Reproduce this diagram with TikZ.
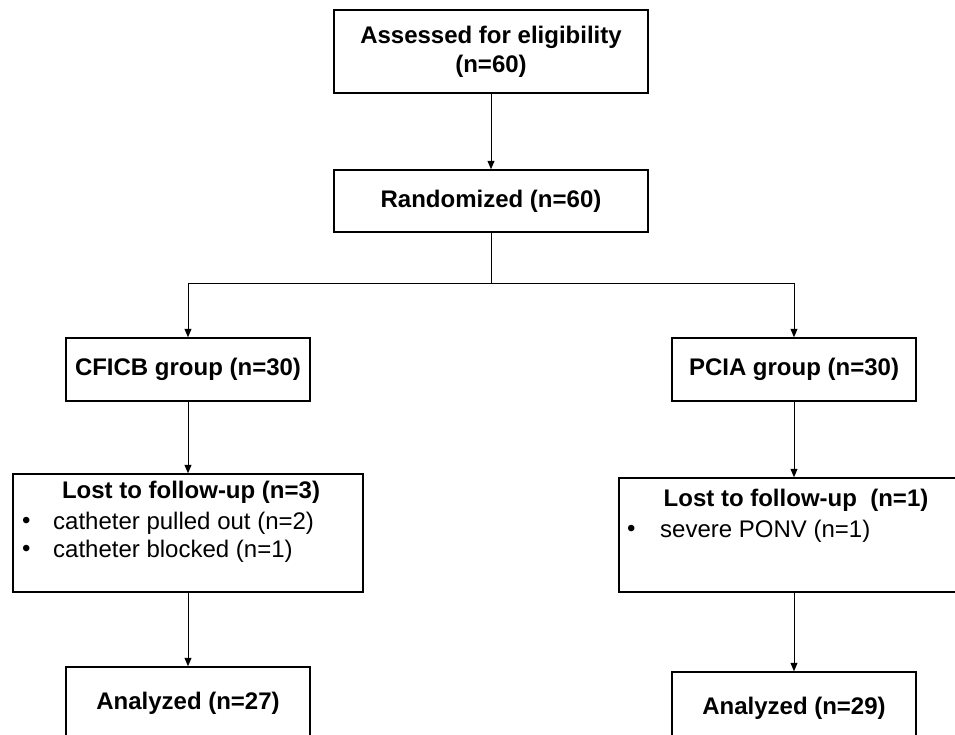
\documentclass[tikz,border=0pt]{standalone}
\usepackage{fontspec}
\setmainfont{Liberation Sans}
\usetikzlibrary{arrows.meta}
\begin{document}
\begin{tikzpicture}[x=1pt,y=-1pt,
  box/.style={draw=black,line width=1.5pt,fill=white,inner sep=0pt,minimum width=#1},
  bt/.style={font=\fontsize{24}{29}\selectfont\bfseries,inner sep=0pt,align=center},
  rt/.style={font=\fontsize{24}{28}\selectfont,inner sep=0pt,anchor=west},
  arr/.style={line width=1pt,-{Triangle[length=8.5pt,width=7pt]}},
  ln/.style={line width=1pt}]
\useasboundingbox (0,0) rectangle (955,734);
\clip (0,0) rectangle (955,734);
% boxes
\node[box=314pt,minimum height=83pt] (assess) at (491,51.5) {};
\node[bt] (assessT) at (491,52) {Assessed for eligibility\\(n=60)};
\node[box=314pt,minimum height=62pt,bt] (rand) at (491,201) {Randomized (n=60)};
\node[box=244pt,minimum height=63pt,bt] (cficb) at (188,369.5) {CFICB group (n=30)};
\node[box=244pt,minimum height=63pt,bt] (pcia) at (794,369.5) {PCIA group (n=30)};
\node[box=350pt,minimum height=118pt] (lostL) at (188,533) {};
\node[box=350pt,minimum height=114pt] (lostR) at (794,535) {};
\node[box=244pt,minimum height=72pt,bt] (anL) at (188,703) {Analyzed (n=27)};
\node[box=244pt,minimum height=72pt,bt] (anR) at (794,708) {Analyzed (n=29)};
% texts in lost boxes
\node[bt] (lostLT) at (191,492) {Lost to follow-up (n=3)};
\node[rt] (bL1) at (22,523) {•};
\node[rt] (iL1) at (53,523) {catheter pulled out (n=2)};
\node[rt] (bL2) at (22,551) {•};
\node[rt] (iL2) at (53,551) {catheter blocked (n=1)};
\node[bt] (lostRT) at (796,500) {Lost to follow-up\ \ (n=1)};
\node[rt] (bR1) at (627,531) {•};
\node[rt] (iR1) at (660,531) {severe PONV (n=1)};
% connectors
\coordinate (split) at (491,283);
\draw[arr] (assess.south) -- (rand.north);
\draw[ln] (rand.south) -- (split);
\draw[arr] (split) -| (cficb.north);
\draw[arr] (split) -| (pcia.north);
\draw[arr] (cficb.south) -- (lostL.north);
\draw[arr] (pcia.south) -- (lostR.north);
\draw[arr] (lostL.south) -- (anL.north);
\draw[arr] (lostR.south) -- (anR.north);
\end{tikzpicture}
\end{document}
